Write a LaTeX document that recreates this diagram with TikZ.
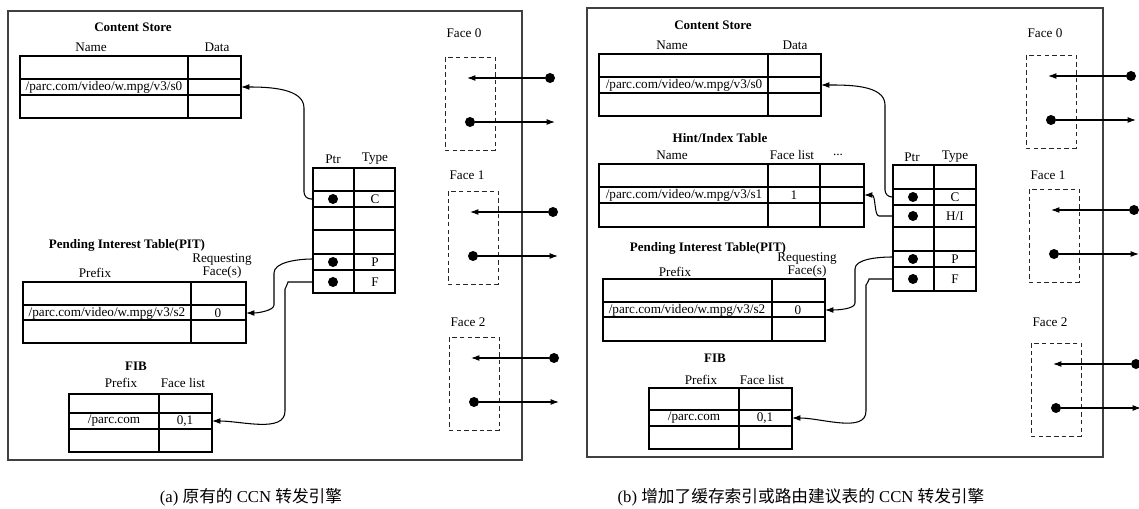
\documentclass[tikz,border=0pt]{standalone}
\usepackage{fontspec}
\setmainfont{Liberation Serif}
\newfontfamily\cjk{Noto Sans CJK SC}
\usetikzlibrary{positioning,arrows.meta}

\tikzset{
    tbl/.style={line width=0.7pt},
    lbl/.style={font=\fontsize{7.5}{7.8}\selectfont, inner sep=0pt},
    ttl/.style={font=\fontsize{7.4}{7.8}\selectfont\bfseries, inner sep=0pt},
    captxt/.style={font=\fontsize{9.5}{11}\selectfont, inner sep=0pt},
    dot/.style={circle, fill, inner sep=0pt, minimum size=0.2cm},
    lnk/.style={-{Latex[length=4.8pt,width=3.4pt]}, line width=0.6pt, rounded corners=4pt},
    facebox/.style={dash pattern=on 2.6pt off 1.8pt, line width=0.5pt, draw=black!85},
    panel/.style={line width=0.8pt, draw=black!75},
}

\begin{document}
\begin{tikzpicture}[x=0.02cm, y=-0.02cm]
    \useasboundingbox (0,0) rectangle (1139,509);

    % ---------------- (a) ----------------
    \draw[panel] (8,11) rectangle (522,460);

    % content store
    \node[ttl] (csA) at (133,27) {Content Store};
    \node[lbl] (csA-name) at (91,47) {Name};
    \node[lbl] (csA-data) at (217,47) {Data};
    \draw[tbl] (20,56) rectangle (241,118);
    \draw[tbl] (20,79) -- (241,79) (20,95) -- (241,95) (188,56) -- (188,118);
    \node[lbl] (csA-s0) at (104,87) {/parc.com/video/w.mpg/v3/s0};
    \coordinate (csA-in) at (241,87);

    % pointer table
    \node[lbl] (ptrA-h1) at (333,159) {Ptr};
    \node[lbl] (ptrA-h2) at (375,159) {Type};
    \draw[tbl] (313,168) rectangle (395,293);
    \foreach \y in {191,207,230,254,270}
        \draw[tbl] (313,\y) -- (395,\y);
    \draw[tbl] (354,168) -- (354,293);
    \foreach \t/\y in {c/199,p/262,f/282}
        \node[dot] (ptrA-d\t) at (333,\y) {};
    \node[lbl] (ptrA-tc) at (375,199) {C};
    \node[lbl] (ptrA-tp) at (375,262) {P};
    \node[lbl] (ptrA-tf) at (375,282) {F};
    \coordinate (ptrA-c) at (313,199);
    \coordinate (ptrA-p) at (313,259);
    \coordinate (ptrA-f) at (313,282);

    % PIT
    \node[ttl] (pitA) at (127,245) {Pending Interest Table(PIT)};
    \node[lbl] (pitA-prefix) at (95,273) {Prefix};
    \node[lbl, align=center] (pitA-req) at (222,266) {Requesting\\Face(s)};
    \draw[tbl] (23,282) rectangle (246,343);
    \draw[tbl] (23,305) -- (246,305) (23,320) -- (246,320) (191,282) -- (191,343);
    \node[lbl] (pitA-s2) at (107,313) {/parc.com/video/w.mpg/v3/s2};
    \node[lbl] (pitA-f) at (218,313) {0};
    \coordinate (pitA-in) at (246,313);

    % FIB
    \node[ttl] (fibA) at (136,366) {FIB};
    \node[lbl] (fibA-prefix) at (121,383) {Prefix};
    \node[lbl] (fibA-faces) at (183,383) {Face list};
    \draw[tbl] (69,394) rectangle (212,452);
    \draw[tbl] (69,413) -- (212,413) (69,429) -- (212,429) (159,394) -- (159,452);
    \node[lbl] (fibA-p) at (114,421) {/parc.com};
    \node[lbl] (fibA-f) at (185,421) {0,1};
    \coordinate (fibA-in) at (212,421);

    \draw[lnk] (ptrA-c) -- (304,199) -- (304,115) to[out=90,in=0] (csA-in);
    \draw[lnk] (ptrA-p) to[out=180,in=90] (274,280) -- (274,298) to[out=270,in=0] (pitA-in);
    \draw[lnk] (ptrA-f) -- (295,282) to[out=180,in=90] (285,296) -- (285,404) to[out=270,in=0] (fibA-in);

    % ---------------- (b) ----------------
    \draw[panel] (587,8) rectangle (1103,457);

    % content store
    \node[ttl] (csB) at (713,25) {Content Store};
    \node[lbl] (csB-name) at (672,45) {Name};
    \node[lbl] (csB-data) at (795,45) {Data};
    \draw[tbl] (599,54) rectangle (821,116);
    \draw[tbl] (599,77) -- (821,77) (599,93) -- (821,93) (768,54) -- (768,116);
    \node[lbl] (csB-s0) at (684,85) {/parc.com/video/w.mpg/v3/s0};
    \coordinate (csB-in) at (821,85);

    % hint / index table
    \node[ttl] (hitB) at (720,138) {Hint/Index Table};
    \node[lbl] (hitB-name) at (672,155) {Name};
    \node[lbl] (hitB-faces) at (792,155) {Face list};
    \node[lbl] (hitB-more) at (838,155) {...};
    \draw[tbl] (599,164) rectangle (864,227);
    \draw[tbl] (599,187) -- (864,187) (599,203) -- (864,203);
    \draw[tbl] (768,164) -- (768,227) (820,164) -- (820,227);
    \node[lbl] (hitB-s1) at (684,195) {/parc.com/video/w.mpg/v3/s1};
    \node[lbl] (hitB-f) at (794,195) {1};
    \coordinate (hitB-in) at (864,195);

    % pointer table
    \node[lbl] (ptrB-h1) at (912,157) {Ptr};
    \node[lbl] (ptrB-h2) at (955,157) {Type};
    \draw[tbl] (893,165) rectangle (976,291);
    \foreach \y in {189,205,227,251,267}
        \draw[tbl] (893,\y) -- (976,\y);
    \draw[tbl] (934,165) -- (934,291);
    \foreach \t/\y in {c/197,h/216,p/259,f/279}
        \node[dot] (ptrB-d\t) at (913,\y) {};
    \node[lbl] (ptrB-tc) at (955,197) {C};
    \node[lbl] (ptrB-th) at (955,216) {H/I};
    \node[lbl] (ptrB-tp) at (955,259) {P};
    \node[lbl] (ptrB-tf) at (955,279) {F};
    \coordinate (ptrB-c) at (893,197);
    \coordinate (ptrB-h) at (893,216);
    \coordinate (ptrB-p) at (893,257);
    \coordinate (ptrB-f) at (893,279);

    % PIT
    \node[ttl] (pitB) at (708,248) {Pending Interest Table(PIT)};
    \node[lbl] (pitB-prefix) at (675,272) {Prefix};
    \node[lbl, align=center] (pitB-req) at (807,265) {Requesting\\Face(s)};
    \draw[tbl] (603,279) rectangle (825,341);
    \draw[tbl] (603,302) -- (825,302) (603,317) -- (825,317) (772,279) -- (772,341);
    \node[lbl] (pitB-s2) at (687,310) {/parc.com/video/w.mpg/v3/s2};
    \node[lbl] (pitB-f) at (798,310) {0};
    \coordinate (pitB-in) at (825,310);

    % FIB
    \node[ttl] (fibB) at (715,358) {FIB};
    \node[lbl] (fibB-prefix) at (701,380) {Prefix};
    \node[lbl] (fibB-faces) at (762,380) {Face list};
    \draw[tbl] (649,388) rectangle (792,449);
    \draw[tbl] (649,410) -- (792,410) (649,426) -- (792,426) (739,388) -- (739,449);
    \node[lbl] (fibB-p) at (694,418) {/parc.com};
    \node[lbl] (fibB-f) at (765,418) {0,1};
    \coordinate (fibB-in) at (792,418);

    \draw[lnk] (ptrB-c) -- (885,197) -- (885,112) to[out=90,in=0] (csB-in);
    \draw[lnk] (ptrB-h) -- (886,216) to[out=180,in=0] (hitB-in);
    \draw[lnk] (ptrB-p) to[out=180,in=90] (855,276) -- (855,296) to[out=270,in=0] (pitB-in);
    \draw[lnk] (ptrB-f) -- (876,279) to[out=180,in=90] (866,292) -- (866,404) to[out=270,in=0] (fibB-in);

    % faces (both panels)
    \foreach \p/\i/\lx/\ty/\ly in {A/0/445/57/33, A/1/448/191/175, A/2/449/337/322,
                                   B/0/1026/55/33, B/1/1029/189/175, B/2/1031/343/322} {
        \node[lbl] (face\p\i) at (\lx+19,\ly) {Face \i};
        \draw[facebox] (\lx,\ty) rectangle (\lx+50,\ty+93);
        \node[dot] (face\p\i-rx) at (\lx+105,\ty+21) {};
        \coordinate (face\p\i-in) at (\lx+22,\ty+21);
        \node[dot] (face\p\i-tx) at (\lx+25,\ty+65) {};
        \coordinate (face\p\i-out) at (\lx+110,\ty+65);
        \draw[lnk] (face\p\i-rx) -- (face\p\i-in);
        \draw[lnk] (face\p\i-tx) -- (face\p\i-out);
    }

    % captions
    \node[captxt] (capA) at (251,497) {(a) {\cjk 原有的} CCN {\cjk 转发引擎}};
    \node[captxt] (capB) at (801,497) {(b) {\cjk 增加了缓存索引或路由建议表的} CCN {\cjk 转发引擎}};
\end{tikzpicture}
\end{document}
